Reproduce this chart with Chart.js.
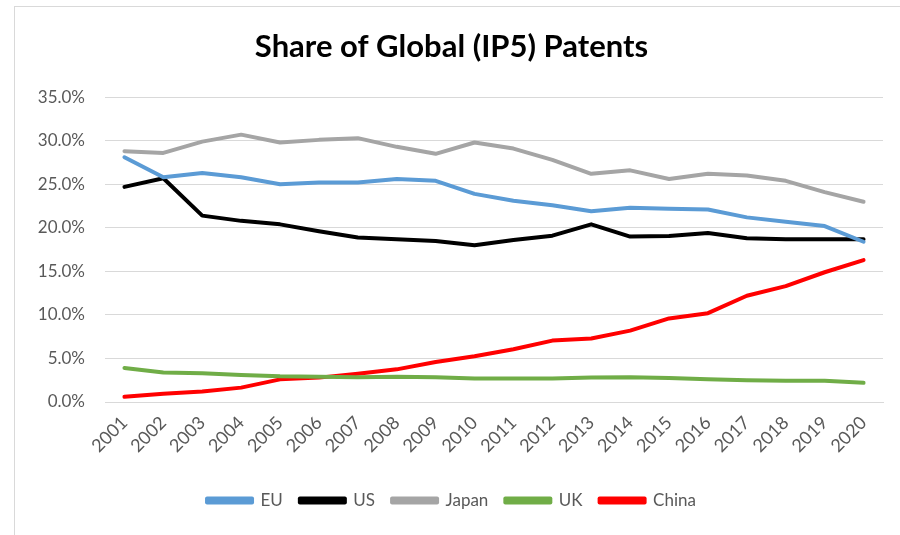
<!DOCTYPE html>
<html>
<head>
<meta charset="utf-8">
<script src="https://cdn.jsdelivr.net/npm/chart.js@4.4.1/dist/chart.umd.min.js"></script>
<style>
    body { margin: 0; background: #fff; }
    #wrap { position: relative; width: 900px; height: 535px; }
    #frame { position: absolute; left: 14px; top: 6px; right: 0; bottom: 0; border-left: 1px solid #d9d9d9; border-top: 1px solid #d9d9d9; pointer-events: none; }
</style>
</head>
<body>
<div id="wrap">
    <canvas id="myChartPatents" width="900" height="535"></canvas>
    <div id="frame"></div>
</div>
<script>
const years = ['2001','2002','2003','2004','2005','2006','2007','2008','2009','2010',
    '2011','2012','2013','2014','2015','2016','2017','2018','2019','2020']

const eu    = [28.1, 25.8, 26.3, 25.8, 25.0, 25.2, 25.2, 25.6, 25.4, 23.9, 23.1, 22.6, 21.9, 22.3, 22.2, 22.1, 21.2, 20.7, 20.2, 18.4]
const us    = [24.7, 25.7, 21.4, 20.8, 20.4, 19.6, 18.9, 18.7, 18.5, 18.0, 18.6, 19.1, 20.4, 19.0, 19.05, 19.4, 18.8, 18.7, 18.7, 18.7]
const japan = [28.8, 28.6, 29.9, 30.7, 29.8, 30.1, 30.3, 29.3, 28.5, 29.8, 29.1, 27.8, 26.2, 26.6, 25.6, 26.2, 26.0, 25.4, 24.1, 23.0]
const uk    = [3.9, 3.4, 3.3, 3.1, 2.95, 2.9, 2.85, 2.9, 2.85, 2.7, 2.7, 2.7, 2.8, 2.85, 2.75, 2.6, 2.5, 2.45, 2.45, 2.2]
const china = [0.6, 0.95, 1.2, 1.65, 2.6, 2.8, 3.25, 3.75, 4.6, 5.25, 6.05, 7.05, 7.3, 8.2, 9.6, 10.2, 12.2, 13.3, 14.9, 16.3]

const yTicks = [0, 5, 10, 15, 20, 25, 30, 35]

const fontFamily = 'Lato, "Open Sans", sans-serif'
const textColor = '#595959'

const makeSerie = (label, values, color) => ({
    label,
    data: values,
    borderColor: color,
    backgroundColor: color,
    borderWidth: 4,
    pointRadius: 0,
    tension: 0,
    borderCapStyle: 'round',
    borderJoinStyle: 'round'
})

const data = {
    labels: years,
    datasets: [
        makeSerie('EU', eu, '#5b9bd5'),
        makeSerie('US', us, '#000000'),
        makeSerie('Japan', japan, '#a5a5a5'),
        makeSerie('UK', uk, '#70ad47'),
        makeSerie('China', china, '#ff0000')
    ]
}

const options = {
    responsive: false,
    animation: false,
    layout: { padding: { left: 20, right: 17, top: 0, bottom: 16 } },
    plugins: {
        title: {
            display: true,
            text: 'Share of Global (IP5) Patents',
            color: '#000',
            font: { family: fontFamily, size: 31, weight: 'bold' },
            padding: { top: 28, bottom: 32 }
        },
        legend: {
            display: true,
            position: 'bottom',
            labels: {
                color: textColor,
                font: { family: fontFamily, size: 17 },
                boxWidth: 45,
                boxHeight: 4,
                padding: 17
            }
        },
        tooltip: { enabled: false }
    },
    scales: {
        x: {
            offset: true,
            grid: { display: false },
            border: { display: true, color: '#d9d9d9', width: 1 },
            afterFit: axis => { axis.height = 73 },
            ticks: {
                color: textColor,
                font: { family: fontFamily, size: 18 },
                maxRotation: 45,
                minRotation: 45,
                padding: 2
            }
        },
        y: {
            min: 0,
            max: 35,
            afterBuildTicks: axis => { axis.ticks = yTicks.map(v => ({ value: v })) },
            afterFit: axis => { axis.width = 85 },
            grid: { color: '#d9d9d9', lineWidth: 1, drawTicks: false },
            border: { display: false },
            ticks: {
                color: textColor,
                font: { family: fontFamily, size: 17 },
                padding: 20,
                callback: v => v.toFixed(1) + '%'
            }
        }
    }
}

new Chart('myChartPatents', { type: 'line', data, options })
</script>
</body>
</html>
